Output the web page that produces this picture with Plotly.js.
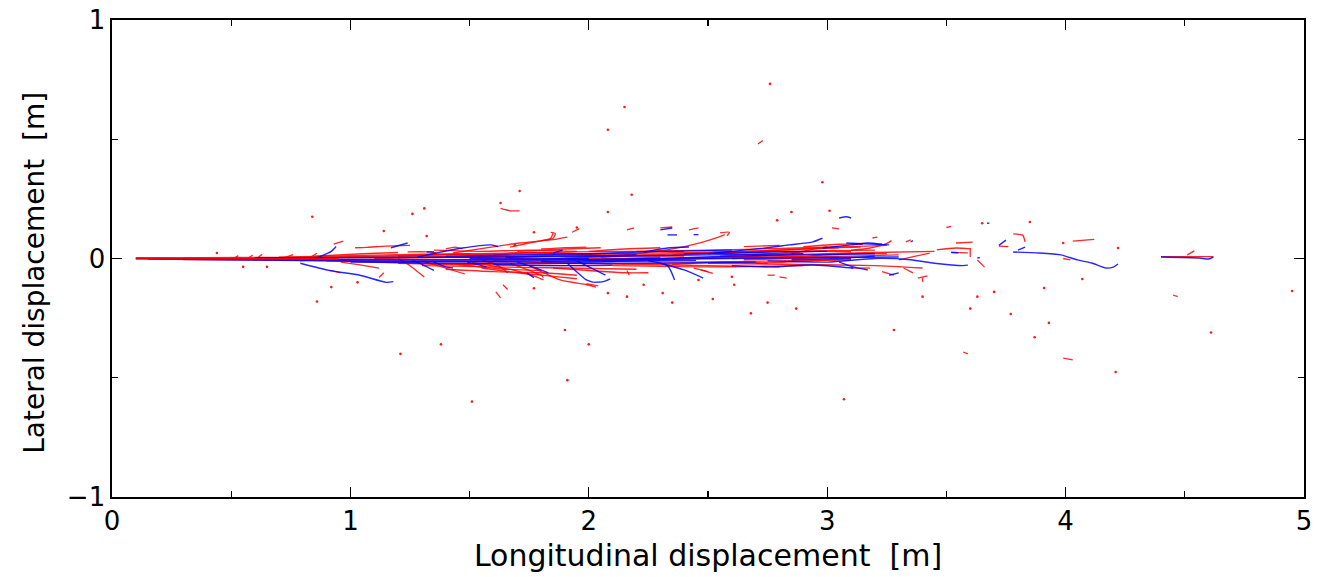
<!DOCTYPE html>
<html><head><meta charset="utf-8">
<script src="https://cdn.plot.ly/plotly-3.0.1.min.js"></script>
<style>html,body{margin:0;padding:0;background:#fff}</style>
</head><body><div id="chart" style="width:1325px;height:577px"></div>
<script>
// Red trajectories forming the central band
const redBand = [
 [[0.10,0.000],[0.50,0.000],[1.00,-0.003],[1.50,-0.005],[1.95,-0.002]],
 [[0.10,0.002],[0.60,0.004],[1.20,0.006],[1.70,0.010],[2.05,0.012]],
 [[0.30,-0.004],[0.80,-0.008],[1.30,-0.012],[1.80,-0.015],[2.10,-0.012]],
 [[0.50,0.000],[1.00,0.008],[1.40,0.015],[1.80,0.020],[2.20,0.020]],
 [[0.90,-0.010],[1.30,-0.020],[1.70,-0.028],[2.00,-0.030]],
 [[1.20,0.010],[1.50,0.020],[1.80,0.025],[2.10,0.030],[2.40,0.030]],
 [[1.30,-0.030],[1.60,-0.035],[1.90,-0.040],[2.20,-0.045]],
 [[1.50,0.005],[1.80,0.012],[2.10,0.020],[2.40,0.025],[2.70,0.030]],
 [[1.60,-0.010],[1.90,-0.020],[2.20,-0.025],[2.50,-0.030],[2.80,-0.035]],
 [[0.70,0.005],[1.00,0.012],[1.30,0.018],[1.50,0.020]],
 [[1.70,0.030],[1.90,0.040],[2.05,0.045]],
 [[1.90,0.000],[2.30,0.000],[2.70,0.005],[3.10,0.010],[3.30,0.015]],
 [[2.00,0.010],[2.40,0.020],[2.80,0.030],[3.20,0.035]],
 [[2.00,-0.010],[2.40,-0.015],[2.80,-0.010],[3.10,-0.005]],
 [[2.20,0.030],[2.50,0.035],[2.80,0.042],[3.10,0.050],[3.25,0.055]],
 [[2.10,-0.030],[2.50,-0.035],[2.90,-0.030]],
 [[2.40,0.000],[2.80,0.015],[3.20,0.025],[3.45,0.030]],
 [[2.50,-0.020],[2.90,-0.025],[3.20,-0.030],[3.40,-0.040]],
 [[2.35,0.015],[2.60,0.025],[2.90,0.040],[3.05,0.045]],
 [[2.60,0.000],[2.90,0.010],[3.10,0.020],[3.25,0.020]],
 [[2.30,-0.005],[2.60,0.005],[2.75,0.012]],
 [[2.70,-0.020],[2.95,-0.010],[3.10,0.000]],
 [[2.90,0.050],[3.05,0.060],[3.15,0.060]],
 [[2.65,0.050],[2.80,0.055]],
 [[1.10,0.000],[1.40,0.005],[1.70,0.000],[2.00,-0.005],[2.30,0.005]],
 [[1.35,0.035],[1.55,0.030],[1.75,0.035],[1.95,0.030]],
 [[1.40,-0.045],[1.60,-0.055],[1.80,-0.060],[1.95,-0.070]],
 [[1.55,-0.040],[1.70,-0.060],[1.85,-0.075],[1.95,-0.085]],
 [[1.45,-0.025],[1.65,-0.045],[1.80,-0.050]],
 [[1.60,0.015],[1.75,0.025],[1.90,0.022],[2.10,0.010]],
 [[1.80,-0.005],[2.00,0.005],[2.20,0.010],[2.40,0.010]],
 [[1.20,-0.020],[1.45,-0.025],[1.60,-0.020]],
 [[1.85,-0.040],[2.00,-0.050],[2.15,-0.060],[2.25,-0.060]],
 [[2.00,0.030],[2.15,0.040],[2.30,0.045]],
 [[2.55,0.010],[2.75,0.020],[2.95,0.030],[3.10,0.028]],
 [[2.65,-0.005],[2.85,0.000],[3.05,0.005]],
 [[2.35,-0.025],[2.55,-0.015],[2.75,-0.020]],
 [[0.85,0.010],[1.05,0.020],[1.20,0.025]]
];
// Red short tracks branching off the band
const redBranches = [
 [[0.51,0.000],[0.53,0.012]],
 [[0.57,0.000],[0.59,0.015]],
 [[0.61,0.002],[0.63,0.018]],
 [[0.72,0.003],[0.76,0.016]],
 [[0.83,0.004],[0.86,0.022]],
 [[0.93,0.060],[0.97,0.073]],
 [[0.91,-0.050],[0.96,-0.060]],
 [[1.12,-0.080],[1.14,-0.060]],
 [[0.96,-0.015],[1.04,-0.027],[1.12,-0.040]],
 [[1.02,0.045],[1.07,0.047],[1.15,0.052],[1.25,0.055]],
 [[1.24,0.028],[1.32,0.028],[1.36,0.024]],
 [[1.20,0.000],[1.25,-0.030],[1.31,-0.078]],
 [[1.40,0.040],[1.44,0.048],[1.47,0.040]],
 [[1.43,0.023],[1.59,0.048],[1.71,0.065],[1.84,0.078],[1.91,0.090]],
 [[1.67,0.048],[1.75,0.065],[1.84,0.085],[1.85,0.106]],
 [[1.80,0.075],[1.85,0.085],[1.86,0.105],[1.84,0.110]],
 [[1.80,0.040],[1.90,0.046],[1.99,0.048]],
 [[1.93,0.110],[1.96,0.125]],
 [[1.51,-0.015],[1.68,-0.048],[1.78,-0.077],[1.81,-0.090]],
 [[1.67,-0.020],[1.80,-0.070],[1.81,-0.080]],
 [[1.75,-0.030],[1.88,-0.090],[1.99,-0.110],[2.03,-0.120]],
 [[1.30,-0.010],[1.40,-0.040],[1.48,-0.065]],
 [[1.55,-0.005],[1.62,-0.030],[1.66,-0.060]],
 [[1.64,-0.110],[1.66,-0.130]],
 [[1.61,-0.140],[1.63,-0.165]],
 [[1.63,0.210],[1.67,0.200],[1.71,0.200]],
 [[1.99,-0.105],[2.04,-0.115]],
 [[2.16,-0.050],[2.17,-0.070]],
 [[2.05,0.005],[2.20,0.020],[2.35,0.040],[2.47,0.067],[2.55,0.092],[2.57,0.100]],
 [[2.16,0.120],[2.19,0.128]],
 [[2.30,0.128],[2.35,0.132]],
 [[2.42,0.120],[2.46,0.128]],
 [[2.55,0.107],[2.59,0.110],[2.58,0.095]],
 [[2.47,-0.048],[2.52,-0.062]],
 [[2.44,-0.040],[2.50,-0.055]],
 [[2.75,-0.070],[2.78,-0.070]],
 [[2.80,-0.077],[2.83,-0.082]],
 [[2.52,0.027],[2.80,0.035],[2.98,0.044],[3.14,0.048]],
 [[2.85,0.020],[2.95,0.040],[3.00,0.050]],
 [[3.02,0.128],[3.05,0.124]],
 [[3.19,0.086],[3.21,0.090]],
 [[3.33,0.070],[3.35,0.078]],
 [[3.10,0.035],[3.18,0.044],[3.25,0.063],[3.27,0.075]],
 [[3.10,-0.040],[3.18,-0.040]],
 [[3.23,-0.055],[3.28,-0.070]],
 [[3.32,-0.040],[3.36,-0.060]],
 [[3.30,-0.006],[3.43,0.023]],
 [[3.38,-0.082],[3.42,-0.073]],
 [[3.40,-0.098],[3.40,-0.080]],
 [[3.46,0.036],[3.54,0.044],[3.60,0.040]],
 [[3.52,0.026],[3.59,0.024]],
 [[3.54,0.065],[3.61,0.069]],
 [[3.60,0.044],[3.60,0.006]],
 [[3.50,0.130],[3.52,0.135]],
 [[3.63,-0.006],[3.66,-0.036]],
 [[3.72,0.052],[3.76,0.050]],
 [[3.78,0.103],[3.82,0.098],[3.83,0.070]],
 [[3.99,0.000],[4.02,-0.006]],
 [[4.03,0.073],[4.12,0.080]],
 [[4.40,0.008],[4.56,0.008],[4.62,0.008]],
 [[4.51,0.015],[4.54,0.032]],
 [[4.45,-0.153],[4.47,-0.160]],
 [[3.99,-0.418],[4.03,-0.425]],
 [[3.57,-0.392],[3.59,-0.400]],
 [[2.71,0.480],[2.73,0.495]]
];
// Blue trajectories
const blueTracks = [
 [[0.10,0.000],[0.60,-0.003],[1.20,-0.006],[1.80,-0.006],[2.40,-0.002],[3.00,0.004],[3.30,0.006]],
 [[0.15,-0.002],[0.70,-0.008],[1.30,-0.012],[1.90,-0.010],[2.30,-0.006]],
 [[0.60,0.002],[1.10,0.004],[1.60,0.006],[2.00,0.008],[2.50,0.015],[2.90,0.020]],
 [[1.00,-0.015],[1.50,-0.020],[1.90,-0.020],[2.30,-0.020],[2.70,-0.015]],
 [[1.40,0.010],[1.70,0.015],[2.00,0.020],[2.30,0.030],[2.60,0.035]],
 [[1.60,-0.025],[1.90,-0.030],[2.10,-0.028]],
 [[2.00,-0.005],[2.30,0.000],[2.60,0.010],[2.90,0.015],[3.20,0.020]],
 [[1.50,0.000],[1.75,-0.002],[2.00,0.000]],
 [[1.65,0.005],[1.85,0.010],[2.05,0.012],[2.20,0.015]],
 [[1.80,-0.012],[2.00,-0.015],[2.20,-0.010],[2.45,-0.008]],
 [[2.40,0.020],[2.60,0.022],[2.80,0.028],[3.00,0.030]],
 [[2.85,-0.005],[3.05,0.000],[3.20,0.010]],
 [[0.79,-0.010],[0.85,0.000],[0.92,0.030],[0.94,0.050]],
 [[0.79,-0.020],[0.91,-0.050],[1.04,-0.070],[1.15,-0.100],[1.18,-0.097]],
 [[1.17,0.045],[1.24,0.065]],
 [[1.32,0.028],[1.35,0.028]],
 [[1.28,0.006],[1.38,0.027],[1.47,0.044],[1.59,0.057],[1.62,0.050]],
 [[1.26,-0.010],[1.28,-0.015],[1.35,-0.050]],
 [[1.49,-0.015],[1.54,-0.027],[1.57,-0.035]],
 [[1.35,-0.015],[1.40,-0.035],[1.43,-0.040]],
 [[1.74,-0.060],[1.77,-0.080]],
 [[1.85,0.023],[1.89,0.035]],
 [[1.70,-0.015],[1.78,-0.040],[1.83,-0.060]],
 [[1.91,-0.020],[1.99,-0.090],[2.02,-0.100]],
 [[2.02,-0.100],[2.06,-0.097],[2.09,-0.085]],
 [[1.95,-0.010],[2.03,-0.050],[2.07,-0.070]],
 [[2.23,0.027],[2.33,0.044],[2.42,0.048]],
 [[2.30,0.120],[2.35,0.128]],
 [[2.33,0.099],[2.37,0.099]],
 [[2.44,0.100],[2.46,0.100]],
 [[2.25,-0.010],[2.33,-0.030],[2.36,-0.090]],
 [[2.30,-0.020],[2.40,-0.048],[2.48,-0.082]],
 [[2.50,0.020],[2.65,0.035],[2.75,0.045],[2.84,0.057],[2.94,0.070],[2.98,0.085]],
 [[2.60,-0.030],[2.76,-0.035],[2.94,-0.027],[3.11,-0.040]],
 [[2.98,0.044],[3.10,0.057],[3.17,0.065],[3.23,0.060]],
 [[3.08,0.065],[3.26,0.057]],
 [[2.75,-0.010],[3.00,-0.015],[3.20,0.000],[3.35,-0.005],[3.45,-0.020],[3.57,-0.030],[3.59,-0.028]],
 [[3.05,-0.015],[3.11,-0.035],[3.17,-0.048]],
 [[3.26,-0.070],[3.30,-0.060]],
 [[3.05,0.170],[3.08,0.175],[3.10,0.170]],
 [[3.35,0.070],[3.36,0.075]],
 [[3.52,0.025],[3.55,0.024]],
 [[3.63,0.002],[3.64,0.004]],
 [[3.72,0.055],[3.75,0.077]],
 [[3.67,0.148],[3.68,0.148]],
 [[3.80,0.035],[3.83,0.048]],
 [[3.78,0.027],[3.89,0.023],[3.98,0.015],[4.05,-0.006],[4.11,-0.019],[4.17,-0.040],[4.20,-0.036],[4.22,-0.023]],
 [[4.40,0.006],[4.56,0.002],[4.60,-0.002],[4.62,0.006]]
];
// Red start of the central band, drawn above the blue
const redCoreTop = [
 [[0.10,0.000],[0.40,0.000],[0.70,-0.001],[0.95,-0.002]]
];
// Isolated red detections
const redDotsX = [0.44,0.55,0.65,0.84,0.86,0.92,1.03,1.21,1.38,1.51,1.90,2.00,1.91,2.52,2.68,3.07,3.28,3.40,3.63,2.16,
 1.26,1.31,1.63,1.71,2.08,2.15,2.18,2.08,2.76,2.98,2.85,3.01,2.79,1.77,1.95,1.14,1.32,1.69,
 4.95,4.61,4.21,3.87,3.93,3.77,3.60,3.70,3.91,4.07,4.22,3.99,3.85,3.65,
 2.23,2.31,2.61,2.87,2.75,2.46,2.60,1.77,2.08,2.35];
const redDotsY = [0.023,-0.035,-0.035,0.175,-0.180,-0.120,-0.100,-0.400,-0.360,-0.600,-0.300,-0.360,-0.510,-0.170,-0.230,-0.590,-0.300,-0.160,-0.160,-0.160,
 0.187,0.210,0.233,0.283,0.540,0.635,0.267,0.195,0.732,0.320,0.195,0.200,0.160,0.110,0.130,0.115,0.094,0.056,
 -0.136,-0.310,-0.476,-0.330,-0.270,-0.233,-0.210,-0.140,-0.124,-0.086,0.044,0.065,0.153,0.148,
 -0.110,-0.145,-0.110,-0.210,-0.185,-0.090,-0.077,-0.125,-0.145,-0.185];

function flatten(tracks){
  const x=[], y=[];
  tracks.forEach(t=>{ t.forEach(p=>{x.push(p[0]); y.push(p[1]);}); x.push(null); y.push(null); });
  return {x, y};
}
const rb = flatten(redBand), rr = flatten(redBranches), bt = flatten(blueTracks), rt = flatten(redCoreTop);
const RED='rgba(255,0,0,0.85)', BLUE='rgba(0,0,255,0.85)';
const traces = [
  {x: rb.x, y: rb.y, mode:'lines', line:{color:RED, width:1.4, shape:'spline', smoothing:0.6}, hoverinfo:'skip', showlegend:false},
  {x: rr.x, y: rr.y, mode:'lines', line:{color:RED, width:1.3, shape:'spline', smoothing:0.6}, hoverinfo:'skip', showlegend:false},
  {x: bt.x, y: bt.y, mode:'lines', line:{color:BLUE, width:1.4, shape:'spline', smoothing:0.6}, hoverinfo:'skip', showlegend:false},
  {x: rt.x, y: rt.y, mode:'lines', line:{color:'rgba(255,0,0,0.9)', width:1.8}, hoverinfo:'skip', showlegend:false},
  {x: redDotsX, y: redDotsY, mode:'markers', marker:{color:'rgba(255,0,0,0.9)', size:2.6}, hoverinfo:'skip', showlegend:false}
];
const FONT = 'DejaVu Sans, sans-serif';
const axisCommon = {
  showgrid:false, zeroline:false, showline:true, linecolor:'#000', linewidth:1.6, mirror:'ticks',
  ticks:'inside', ticklen:10, tickwidth:1.3, tickcolor:'#000',
  tickfont:{family:FONT, size:26, color:'#000'},
  minor:{dtick:0.5, ticks:'inside', ticklen:6, tickwidth:1.3, tickcolor:'#000', showgrid:false}
};
const layout = {
  width:1325, height:577,
  margin:{l:112, r:21, t:20, b:80},
  paper_bgcolor:'#fff', plot_bgcolor:'#fff',
  xaxis: Object.assign({}, axisCommon, {range:[0,5], tickvals:[0,1,2,3,4,5], ticktext:['0','1','2','3','4','5'],
    title:{text:'Longitudinal displacement\u00a0\u00a0[m]', font:{family:FONT, size:30, color:'#000'}, standoff:10}}),
  yaxis: Object.assign({}, axisCommon, {range:[-1,1], tickvals:[-1,0,1], ticktext:['\u22121','0','1']}),
  annotations:[{text:'Lateral displacement\u00a0\u00a0[m]', xref:'paper', yref:'paper', x:-0.0646, y:0.47,
    xanchor:'center', yanchor:'middle', textangle:-90, showarrow:false,
    font:{family:FONT, size:28, color:'#000'}}],
  showlegend:false
};
Plotly.newPlot('chart', traces, layout, {displayModeBar:false, staticPlot:true});
</script>
</body></html>
